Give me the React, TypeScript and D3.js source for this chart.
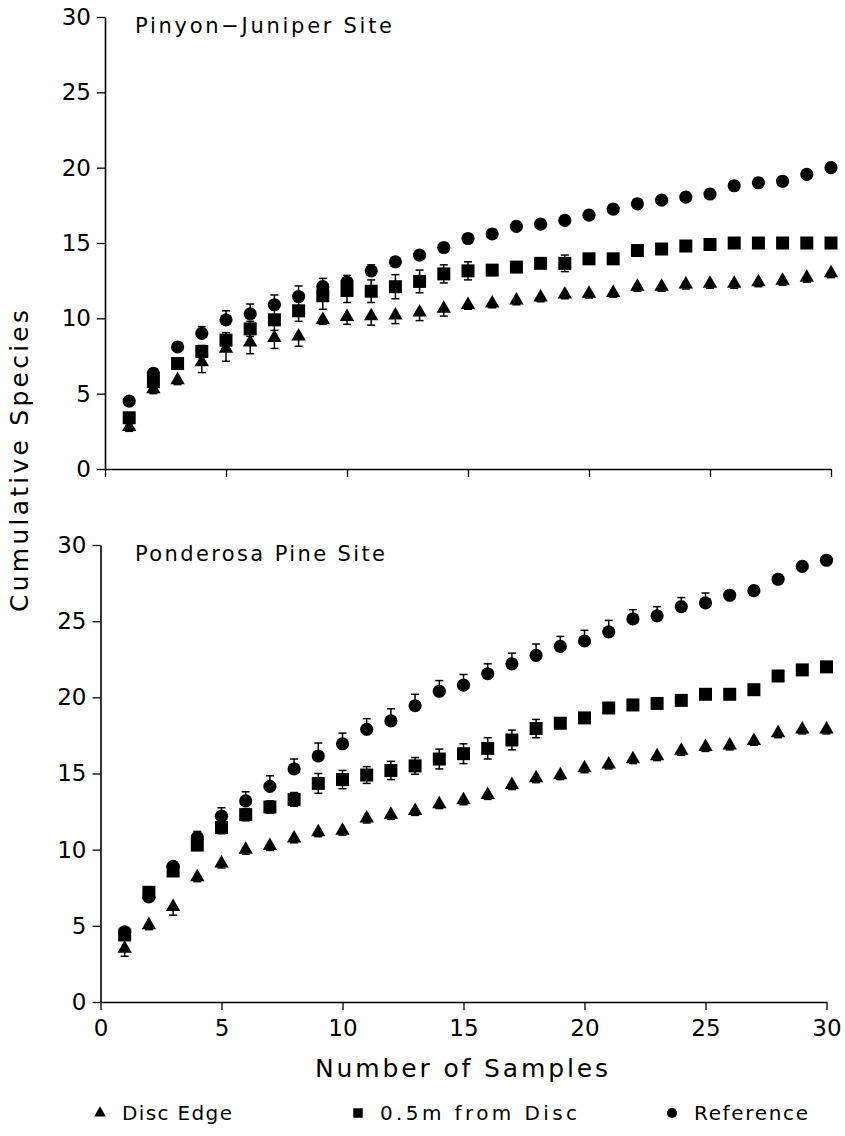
import React, { useEffect, useRef } from 'react'
import * as d3 from 'd3'

// sample counts (x) shared by both sites
const samples = [1, 2, 3, 4, 5, 6, 7, 8, 9, 10, 11, 12, 13, 14, 15, 16, 17, 18, 19, 20, 21, 22, 23, 24, 25, 26, 27, 28, 29, 30]
const majorTicks = [0, 5, 10, 15, 20, 25, 30]
const minorTicks = [0, 1, 2, 3, 4, 5, 6, 7, 8, 9, 10, 11, 12, 13, 14, 15, 16, 17, 18, 19, 20, 21, 22, 23, 24, 25, 26, 27, 28, 29, 30]
const seriesNames = ['Disc Edge', '0.5m from Disc', 'Reference']

// Pinyon-Juniper site
const pjEdge = [2.8, 5.3, 5.9, 7.1, 8.0, 8.4, 8.7, 8.8, 9.9, 10.1, 10.15, 10.2, 10.4, 10.65, 10.9, 11.0, 11.2, 11.4, 11.6, 11.65, 11.7, 12.1, 12.1, 12.25, 12.3, 12.3, 12.4, 12.5, 12.7, 13.0]
const pjHalf = [3.4, 5.8, 7.0, 7.8, 8.55, 9.3, 9.9, 10.5, 11.5, 11.85, 11.8, 12.1, 12.45, 12.95, 13.15, 13.2, 13.4, 13.65, 13.65, 13.95, 13.95, 14.5, 14.6, 14.8, 14.9, 15.0, 15.0, 15.0, 15.0, 15.0]
const pjRef = [4.5, 6.35, 8.1, 9.0, 9.9, 10.3, 10.9, 11.45, 12.1, 12.4, 13.15, 13.75, 14.2, 14.7, 15.3, 15.6, 16.1, 16.25, 16.5, 16.85, 17.25, 17.6, 17.85, 18.05, 18.25, 18.8, 19.0, 19.1, 19.55, 20.0]
const pjEdgeSe = [0.3, 0.3, 0.3, 0.7, 0.85, 0.75, 0.7, 0.65, 0.3, 0.5, 0.6, 0.55, 0.55, 0.5, 0.3, 0.3, 0.3, 0.3, 0.3, 0.3, 0.3, 0.3, 0.3, 0.3, 0.3, 0.3, 0.3, 0.3, 0.3, 0.3]
const pjHalfSe = [0.3, 0.3, 0.3, 0.4, 0.5, 0.5, 0.7, 0.7, 0.9, 0.8, 0.75, 0.8, 0.75, 0.6, 0.6, 0.3, 0.3, 0.3, 0.55, 0.3, 0.3, 0.3, 0.3, 0.3, 0.3, 0.3, 0.3, 0.3, 0.3, 0.3]
const pjRefSe = [0.3, 0.3, 0.3, 0.45, 0.6, 0.65, 0.65, 0.7, 0.55, 0.45, 0.4, 0.3, 0.3, 0.3, 0.3, 0.3, 0.3, 0.3, 0.3, 0.3, 0.3, 0.3, 0.3, 0.3, 0.3, 0.3, 0.3, 0.3, 0.3, 0.3]

// Ponderosa Pine site
const ppEdge = [3.5, 5.05, 6.25, 8.2, 9.1, 10.0, 10.25, 10.75, 11.15, 11.25, 12.05, 12.3, 12.55, 13.0, 13.25, 13.6, 14.25, 14.7, 14.9, 15.35, 15.6, 15.95, 16.15, 16.5, 16.75, 16.85, 17.15, 17.65, 17.9, 17.9]
const ppHalf = [4.4, 7.2, 8.6, 10.3, 11.45, 12.3, 12.8, 13.3, 14.35, 14.6, 14.9, 15.2, 15.5, 15.95, 16.3, 16.65, 17.2, 17.95, 18.3, 18.65, 19.3, 19.5, 19.6, 19.8, 20.2, 20.2, 20.5, 21.4, 21.8, 22.0]
const ppRef = [4.6, 6.9, 8.9, 10.8, 12.2, 13.2, 14.15, 15.3, 16.15, 16.95, 17.9, 18.45, 19.45, 20.4, 20.8, 21.55, 22.2, 22.75, 23.35, 23.7, 24.3, 25.15, 25.35, 25.95, 26.2, 26.7, 27.0, 27.75, 28.6, 29.0]
const ppEdgeSe = [0.5, 0.3, 0.55, 0.3, 0.3, 0.3, 0.3, 0.3, 0.3, 0.3, 0.3, 0.3, 0.3, 0.3, 0.3, 0.3, 0.3, 0.3, 0.3, 0.3, 0.3, 0.3, 0.3, 0.3, 0.3, 0.3, 0.3, 0.3, 0.3, 0.3]
const ppHalfSe = [0.3, 0.35, 0.3, 0.3, 0.4, 0.4, 0.4, 0.45, 0.65, 0.6, 0.55, 0.6, 0.55, 0.65, 0.65, 0.7, 0.65, 0.6, 0.3, 0.3, 0.3, 0.3, 0.3, 0.3, 0.3, 0.3, 0.3, 0.3, 0.3, 0.3]
const ppRefSe = [0.3, 0.3, 0.3, 0.4, 0.55, 0.6, 0.7, 0.65, 0.85, 0.7, 0.7, 0.8, 0.75, 0.7, 0.7, 0.65, 0.7, 0.75, 0.65, 0.7, 0.75, 0.6, 0.6, 0.6, 0.65, 0.3, 0.3, 0.3, 0.3, 0.3]

const W = 845
const H = 1136
const FONT = '"DejaVu Sans", sans-serif'

type Panel = {
  title: string
  titleWidth: number
  left: number
  top: number
  bottom: number
  xLabels: boolean
  series: { values: number[]; se: number[]; shape: d3.SymbolType; size: number; dir: string }[]
}

const panels: Panel[] = [
  {
    title: 'Pinyon\u2212Juniper Site',
    titleWidth: 257,
    left: 105,
    top: 17,
    bottom: 469,
    xLabels: false,
    series: [
      { values: pjEdge, se: pjEdgeSe, shape: d3.symbolTriangle, size: 90, dir: 'down' },
      { values: pjHalf, se: pjHalfSe, shape: d3.symbolSquare, size: 169, dir: 'both' },
      { values: pjRef, se: pjRefSe, shape: d3.symbolCircle, size: 136, dir: 'up' }
    ]
  },
  {
    title: 'Ponderosa Pine Site',
    titleWidth: 250,
    left: 100.5,
    top: 545,
    bottom: 1002,
    xLabels: true,
    series: [
      { values: ppEdge, se: ppEdgeSe, shape: d3.symbolTriangle, size: 90, dir: 'down' },
      { values: ppHalf, se: ppHalfSe, shape: d3.symbolSquare, size: 169, dir: 'both' },
      { values: ppRef, se: ppRefSe, shape: d3.symbolCircle, size: 136, dir: 'up' }
    ]
  }
]

export default function App() {
  const ref = useRef<SVGSVGElement>(null)

  useEffect(() => {
    const svg = d3.select(ref.current)
    svg.selectAll('*').remove()

    panels.forEach(p => {
      const x = d3.scaleLinear().domain([0, 30]).range([p.left, p.left + 726])
      const y = d3.scaleLinear().domain([0, 30]).range([p.bottom, p.top])
      const g = svg.append('g')

      // y axis, major + minor ticks
      const yAxis = g.append('g').attr('transform', `translate(${p.left},0)`)
      yAxis.call(
        d3.axisLeft(y).tickValues(minorTicks).tickSize(4).tickSizeOuter(0).tickFormat(() => '')
      )
      yAxis.call(
        d3.axisLeft(y).tickValues(majorTicks).tickSize(8).tickSizeOuter(0).tickPadding(6).tickFormat(d3.format('d'))
      )

      // x axis
      const xAxis = g.append('g').attr('transform', `translate(0,${p.bottom})`)
      xAxis.call(
        d3.axisBottom(x).tickValues(minorTicks).tickSize(5).tickSizeOuter(0).tickFormat(() => '')
      )
      xAxis.call(
        d3.axisBottom(x).tickValues(majorTicks).tickSize(8).tickSizeOuter(0).tickPadding(10)
          .tickFormat(p.xLabels ? d3.format('d') : () => '')
      )

      g.selectAll('.domain').attr('stroke', '#000').attr('stroke-width', 1.6)
      g.selectAll('.tick line').attr('stroke', '#000').attr('stroke-width', 1.3)
      g.selectAll('.tick text')
        .attr('fill', '#000')
        .attr('font-family', FONT)
        .attr('font-size', 23)

      // panel title
      g.append('text')
        .attr('x', 135)
        .attr('y', p.top + 16)
        .attr('font-family', FONT)
        .attr('font-size', 21)
        .attr('textLength', p.titleWidth)
        .attr('lengthAdjust', 'spacing')
        .text(p.title)

      // error bars
      p.series.forEach(s => {
        const bars = g.append('g').attr('stroke', '#000').attr('stroke-width', 1.5)
        s.values.forEach((v, i) => {
          const cx = x(samples[i])
          const lo = s.dir === 'up' ? v : v - s.se[i]
          const hi = s.dir === 'down' ? v : v + s.se[i]
          bars.append('line').attr('x1', cx).attr('x2', cx).attr('y1', y(lo)).attr('y2', y(hi))
          if (s.dir !== 'up') {
            bars.append('line').attr('x1', cx - 4).attr('x2', cx + 4).attr('y1', y(lo)).attr('y2', y(lo))
          }
          if (s.dir !== 'down') {
            bars.append('line').attr('x1', cx - 4).attr('x2', cx + 4).attr('y1', y(hi)).attr('y2', y(hi))
          }
        })
      })

      // markers
      p.series.forEach(s => {
        g.append('g')
          .selectAll('path')
          .data(s.values)
          .enter()
          .append('path')
          .attr('d', d3.symbol().type(s.shape).size(s.size))
          .attr('transform', (d, i) => `translate(${x(samples[i])},${y(d)})`)
          .attr('fill', '#000')
      })
    })

    // axis titles
    svg.append('text')
      .attr('x', 315)
      .attr('y', 1077)
      .attr('font-family', FONT)
      .attr('font-size', 25)
      .attr('textLength', 293)
      .attr('lengthAdjust', 'spacing')
      .text('Number of Samples')

    svg.append('text')
      .attr('transform', 'translate(28,612) rotate(-90)')
      .attr('font-family', FONT)
      .attr('font-size', 25)
      .attr('textLength', 302)
      .attr('lengthAdjust', 'spacing')
      .text('Cumulative Species')

    // legend
    const legendX = [100, 358, 672]
    const legendWidths = [110, 197, 114]
    const legendShapes = [d3.symbolTriangle, d3.symbolSquare, d3.symbolCircle]
    const legendSizes = [60, 90, 80]
    seriesNames.forEach((name, i) => {
      svg.append('path')
        .attr('d', d3.symbol().type(legendShapes[i]).size(legendSizes[i]))
        .attr('transform', `translate(${legendX[i]},1113)`)
        .attr('fill', '#000')
      svg.append('text')
        .attr('x', legendX[i] + 22)
        .attr('y', 1120)
        .attr('font-family', FONT)
        .attr('font-size', 20)
        .attr('textLength', legendWidths[i])
        .attr('lengthAdjust', 'spacing')
        .text(name)
    })
  }, [])

  return (
    <svg
      ref={ref}
      width={W}
      height={H}
      style={{ position: 'absolute', left: 0, top: 0, background: '#fff' }}
    />
  )
}
